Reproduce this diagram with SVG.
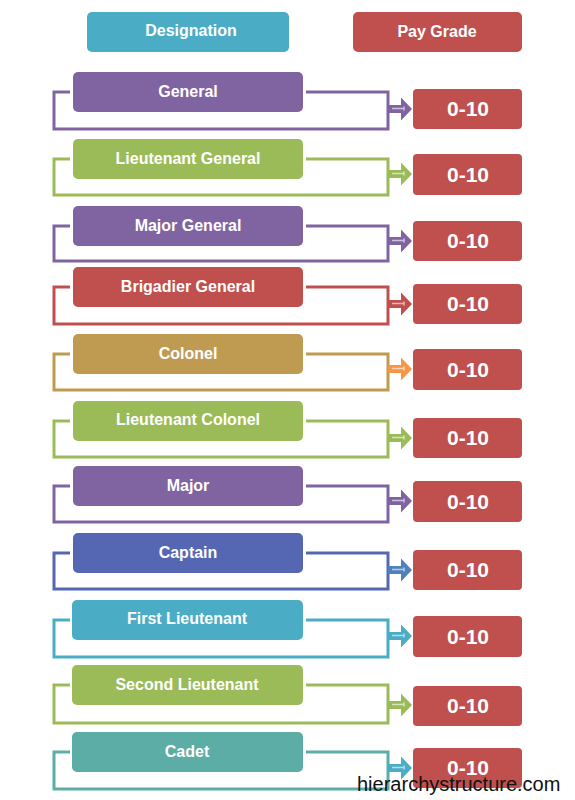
<svg xmlns="http://www.w3.org/2000/svg" width="575" height="800" viewBox="0 0 575 800">
<defs>
<style>
.lbl{font-family:"Liberation Sans",Arial,sans-serif;font-weight:bold;fill:#fff;text-anchor:middle}
.nt{font-size:16px}
.pt{font-size:21px}
.ln{fill:none;stroke-width:3}
.hl{stroke:#fff;stroke-opacity:.6;stroke-width:1.5;fill:none}
.pu{fill:#8064A2}.puS{stroke:#8064A2}
.gr{fill:#9BBB59}.grS{stroke:#9BBB59}
.rd{fill:#C0504D}.rdS{stroke:#C0504D}
.go{fill:#BF9B52}.goS{stroke:#BF9B52}
.or{fill:#F79646}
.bl{fill:#5567B3}.blS{stroke:#5567B3}
.bb{fill:#4F81BD}
.aq{fill:#4BACC6}.aqS{stroke:#4BACC6}
.te{fill:#5BADA5}.teS{stroke:#5BADA5}
.wm{font-family:"Liberation Sans",Arial,sans-serif;font-size:20px;fill:#111}
</style>
<g id="arr">
<polygon points="0,-4 13,-4 13,-11.5 24,0 13,11.5 13,4 0,4"/>
<path class="hl" d="M4 -0.5 H16 M16 -2.5 V1.5"/>
</g>
</defs>
<rect width="575" height="800" fill="#fff"/>

<g id="header-designation"><rect x="87" y="12" width="202" height="40" rx="5" class="aq"/><text x="191" y="36" class="lbl nt">Designation</text></g>
<g id="header-paygrade"><rect x="353" y="12" width="169" height="40" rx="5" class="rd"/><text x="437" y="37" class="lbl nt">Pay Grade</text></g>

<g id="connectors">
<path class="ln puS" d="M70 92 H54 V129 H388 V92 H306"/>
<use href="#arr" x="388" y="109" class="pu"/>
<path class="ln grS" d="M70 159 H54 V195 H388 V159 H306"/>
<use href="#arr" x="388" y="174" class="gr"/>
<path class="ln puS" d="M70 226 H54 V261 H388 V226 H306"/>
<use href="#arr" x="388" y="241" class="pu"/>
<path class="ln rdS" d="M70 287 H54 V324 H388 V287 H306"/>
<use href="#arr" x="388" y="304" class="rd"/>
<path class="ln goS" d="M70 354 H54 V390 H388 V354 H306"/>
<use href="#arr" x="388" y="369" class="or"/>
<path class="ln grS" d="M70 421 H54 V457 H388 V421 H306"/>
<use href="#arr" x="388" y="438" class="gr"/>
<path class="ln puS" d="M70 486 H54 V522 H388 V486 H306"/>
<use href="#arr" x="388" y="501" class="pu"/>
<path class="ln blS" d="M70 553 H54 V589 H388 V553 H306"/>
<use href="#arr" x="388" y="570" class="bb"/>
<path class="ln aqS" d="M70 620 H54 V657 H388 V620 H306"/>
<use href="#arr" x="388" y="636" class="aq"/>
<path class="ln grS" d="M70 685 H54 V723 H388 V685 H306"/>
<use href="#arr" x="388" y="705" class="gr"/>
<path class="ln teS" d="M70 752 H54 V789 H388 V752 H306"/>
<use href="#arr" x="388" y="768" class="aq"/>
</g>

<g id="general"><rect x="73" y="72" width="230" height="40" rx="5" class="pu"/><text x="188" y="97" class="lbl nt">General</text></g>
<g id="lieutenant-general"><rect x="73" y="139" width="230" height="40" rx="5" class="gr"/><text x="188" y="164" class="lbl nt">Lieutenant General</text></g>
<g id="major-general"><rect x="73" y="206" width="230" height="40" rx="5" class="pu"/><text x="188" y="231" class="lbl nt">Major General</text></g>
<g id="brigadier-general"><rect x="73" y="267" width="230" height="40" rx="5" class="rd"/><text x="188" y="292" class="lbl nt">Brigadier General</text></g>
<g id="colonel"><rect x="73" y="334" width="230" height="40" rx="5" class="go"/><text x="188" y="359" class="lbl nt">Colonel</text></g>
<g id="lieutenant-colonel"><rect x="73" y="401" width="230" height="40" rx="5" class="gr"/><text x="188" y="425" class="lbl nt">Lieutenant Colonel</text></g>
<g id="major"><rect x="73" y="466" width="230" height="40" rx="5" class="pu"/><text x="188" y="491" class="lbl nt">Major</text></g>
<g id="captain"><rect x="73" y="533" width="230" height="40" rx="5" class="bl"/><text x="188" y="558" class="lbl nt">Captain</text></g>
<g id="first-lieutenant"><rect x="72" y="600" width="231" height="40" rx="5" class="aq"/><text x="187" y="624" class="lbl nt">First Lieutenant</text></g>
<g id="second-lieutenant"><rect x="72" y="665" width="231" height="40" rx="5" class="gr"/><text x="187" y="690" class="lbl nt">Second Lieutenant</text></g>
<g id="cadet"><rect x="72" y="732" width="231" height="40" rx="5" class="te"/><text x="187" y="757" class="lbl nt">Cadet</text></g>

<g id="pay-1"><rect x="413" y="89" width="109" height="40" rx="4" class="rd"/><text x="468" y="116" class="lbl pt">0-10</text></g>
<g id="pay-2"><rect x="413" y="154" width="109" height="41" rx="4" class="rd"/><text x="468" y="182" class="lbl pt">0-10</text></g>
<g id="pay-3"><rect x="413" y="221" width="109" height="40" rx="4" class="rd"/><text x="468" y="248" class="lbl pt">0-10</text></g>
<g id="pay-4"><rect x="413" y="284" width="109" height="40" rx="4" class="rd"/><text x="468" y="311" class="lbl pt">0-10</text></g>
<g id="pay-5"><rect x="413" y="349" width="109" height="41" rx="4" class="rd"/><text x="468" y="377" class="lbl pt">0-10</text></g>
<g id="pay-6"><rect x="413" y="418" width="109" height="40" rx="4" class="rd"/><text x="468" y="445" class="lbl pt">0-10</text></g>
<g id="pay-7"><rect x="413" y="481" width="109" height="41" rx="4" class="rd"/><text x="468" y="509" class="lbl pt">0-10</text></g>
<g id="pay-8"><rect x="413" y="550" width="109" height="40" rx="4" class="rd"/><text x="468" y="577" class="lbl pt">0-10</text></g>
<g id="pay-9"><rect x="413" y="616" width="109" height="41" rx="4" class="rd"/><text x="468" y="644" class="lbl pt">0-10</text></g>
<g id="pay-10"><rect x="413" y="686" width="109" height="40" rx="4" class="rd"/><text x="468" y="713" class="lbl pt">0-10</text></g>
<g id="pay-11"><rect x="413" y="748" width="109" height="40" rx="4" class="rd"/><text x="468" y="775" class="lbl pt">0-10</text></g>

<text x="357" y="791" class="wm">hierarchystructure.com</text>
</svg>
